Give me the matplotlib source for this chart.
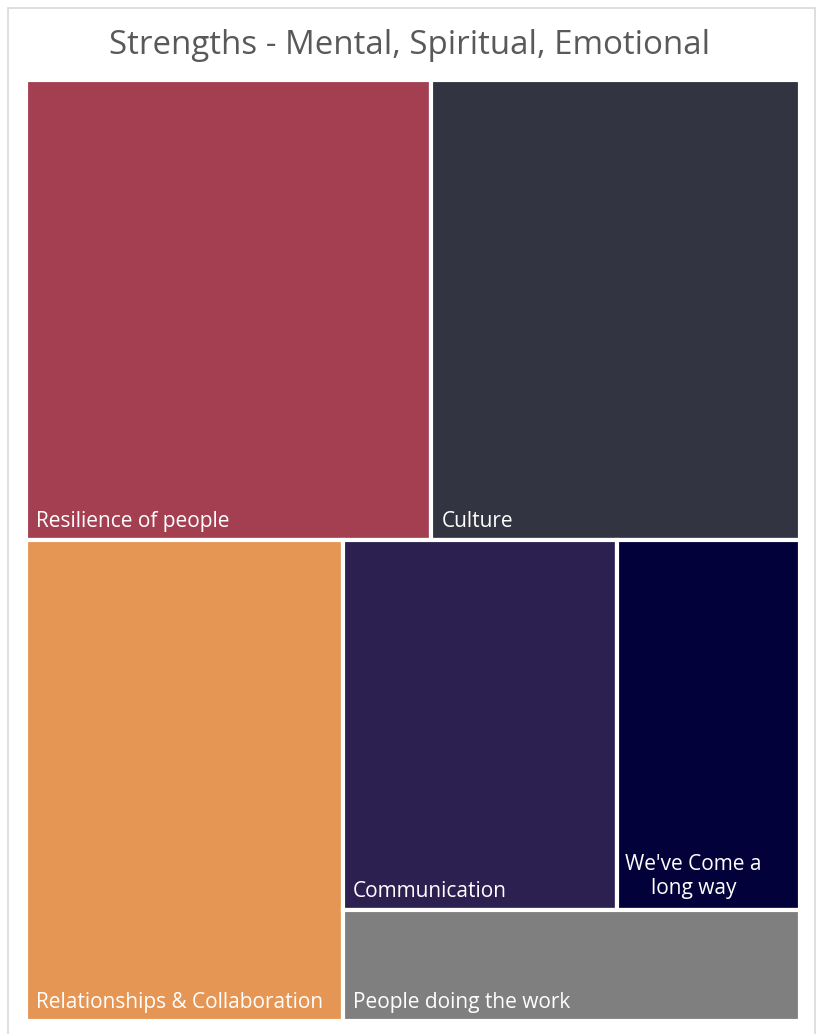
import matplotlib
matplotlib.use("Agg")
import matplotlib.pyplot as plt
from matplotlib.patches import Rectangle

plt.rcParams['font.family'] = ['Open Sans', 'DejaVu Sans']

# treemap data
labels = ["Resilience of people", "Culture", "Relationships & Collaboration",
          "Communication", "We've Come a\nlong way", "People doing the work"]
values = [11, 10, 9, 6, 4, 3]
colors = ["#A43F51", "#323441", "#E69654", "#2C2050", "#03013A", "#7F7F7F"]

W, H = 774.0, 941.0


def worst(row, side):
	s = sum(row)
	return max(max(side * side * r / (s * s), s * s / (side * side * r)) for r in row)


def squarify(vals, x, y, w, h):
	"""
	squarified layout, y measured from the top
	"""
	rects = []
	vals = list(vals)
	while vals:
		side = min(w, h)
		row = [vals[0]]
		i = 1
		while i < len(vals) and worst(row + [vals[i]], side) <= worst(row, side):
			row.append(vals[i])
			i += 1
		vals = vals[i:]
		s = sum(row)
		if w <= h:
			# row along the top
			rh = s / w
			cx = x
			for r in row:
				rects.append((cx, y, r / rh, rh))
				cx += r / rh
			y += rh
			h -= rh
		else:
			# column along the left
			rw = s / h
			cy = y
			for r in row:
				rects.append((x, cy, rw, r / rw))
				cy += r / rw
			x += rw
			w -= rw
	return rects


total = sum(values)
areas = [v / total * W * H for v in values]
rects = squarify(areas, 0, 0, W, H)

fig = plt.figure(figsize=(8.2, 10.34), dpi=100)

# light outer frame
fig.patches.append(Rectangle((8 / 820, -0.01), 807 / 820, 1 - 8 / 1034 + 0.01, transform=fig.transFigure,
                             fill=False, edgecolor="#D9D9D9", linewidth=1.2))

ax = fig.add_axes([26 / 820, 13 / 1034, W / 820, H / 1034])
ax.set_xlim(0, W)
ax.set_ylim(H, 0)
ax.axis("off")

for (x, y, w, h), lab, col in zip(rects, labels, colors):
	ax.add_patch(Rectangle((x, y), w, h, facecolor=col, edgecolor="white", linewidth=3))
	if "\n" in lab:
		ax.text(x + 8, y + h - 16, lab, color="white", fontsize=15, ha="left", va="baseline",
		        multialignment="center", linespacing=1.15)
	else:
		ax.text(x + 10, y + h - 13, lab, color="white", fontsize=15, ha="left", va="baseline")

fig.text(0.5, 1 - 45 / 1034, "Strengths - Mental, Spiritual, Emotional", ha="center", va="center",
         fontsize=23.8, color="#595959")

fig.savefig("out.png", dpi=100)
